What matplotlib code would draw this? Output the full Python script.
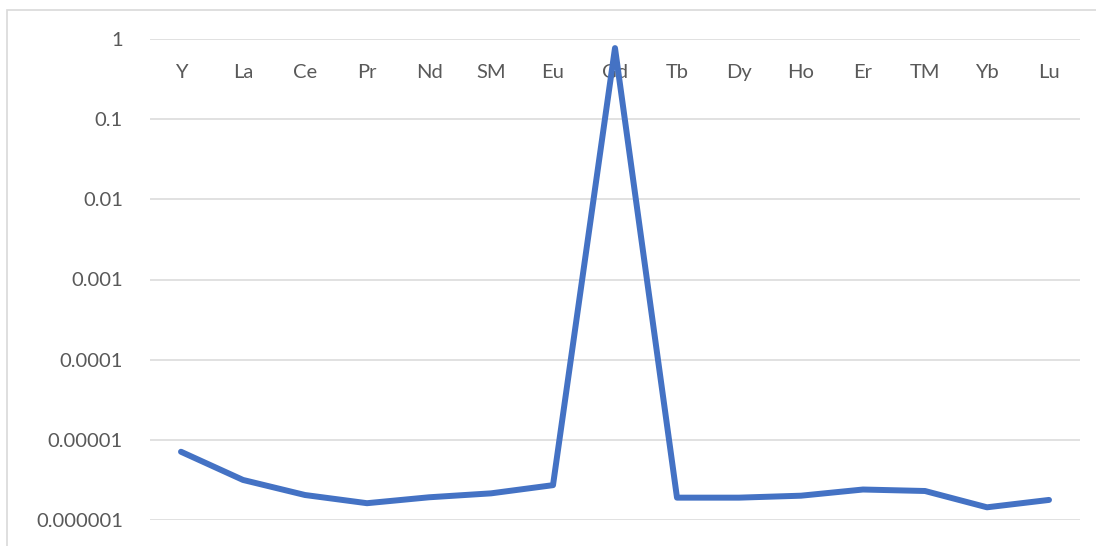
import matplotlib.pyplot as plt
from matplotlib.patches import Rectangle
from matplotlib.ticker import FixedLocator, NullLocator, FixedFormatter

# rare earth element abundances
elements = ['Y', 'La', 'Ce', 'Pr', 'Nd', 'SM', 'Eu', 'Gd', 'Tb', 'Dy', 'Ho', 'Er', 'TM', 'Yb', 'Lu']
values = [7.1e-6, 3.16e-6, 2.05e-6, 1.62e-6, 1.92e-6, 2.15e-6, 2.72e-6, 0.77,
          1.90e-6, 1.90e-6, 2.01e-6, 2.40e-6, 2.30e-6, 1.44e-6, 1.78e-6]
ytick_vals = [1e-6, 1e-5, 1e-4, 1e-3, 1e-2, 1e-1, 1]
ytick_labels = ['0.000001', '0.00001', '0.0001', '0.001', '0.01', '0.1', '1']

plt.rcParams['font.family'] = ['Lato', 'DejaVu Sans']
text_col = '#595959'

fig = plt.figure(figsize=(10.96, 5.46), dpi=100)
ax = fig.add_axes([150 / 1096, 1 - 520 / 546, 930 / 1096, 481 / 546])

# light frame around the chart area
fig.patches.append(Rectangle((7 / 1096, -0.05), 1.1, 1 - 10 / 546 + 0.05,
                             transform=fig.transFigure, fill=False,
                             edgecolor='#d9d9d9', linewidth=1.2))

x = list(range(len(elements)))
ax.plot(x, values, color='#4472C4', linewidth=4.3,
        solid_capstyle='round', solid_joinstyle='round', zorder=3)

ax.set_yscale('log')
ax.set_ylim(1e-6, 1)
ax.set_xlim(-0.5, len(elements) - 0.5)
ax.yaxis.set_major_locator(FixedLocator(ytick_vals))
ax.yaxis.set_major_formatter(FixedFormatter(ytick_labels))
ax.yaxis.set_minor_locator(NullLocator())
ax.grid(axis='y', color='#d9d9d9', linewidth=1.1)
ax.set_axisbelow(True)

ax.set_xticks(x)
ax.set_xticklabels(elements)
ax.tick_params(axis='x', bottom=False, top=False, labelbottom=False,
               labeltop=True, pad=-34, labelsize=14.5, labelcolor=text_col)
ax.tick_params(axis='y', left=False, pad=16, labelsize=14.5, labelcolor=text_col)

for s in ax.spines.values():
    s.set_visible(False)

fig.savefig('out.png', dpi=100)
